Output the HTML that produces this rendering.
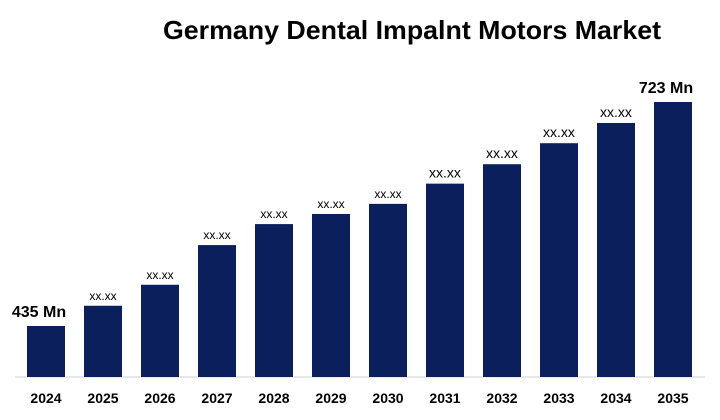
<!DOCTYPE html>
<html><head><meta charset="utf-8"><style>
body{margin:0;background:#fff;}
svg{display:block;font-family:"Liberation Sans",sans-serif;}
</style></head><body>
<svg width="720" height="420">
<text x="412" y="39" text-anchor="middle" font-size="26" font-weight="bold" fill="#000" textLength="498" lengthAdjust="spacingAndGlyphs">Germany Dental Impalnt Motors Market</text>
<line x1="15" y1="377" x2="705" y2="377" stroke="#d0d0d0"/>
<g id="bars"></g>
</svg>
<script>
const categories=["2024","2025","2026","2027","2028","2029","2030","2031","2032","2033","2034","2035"];
const values=[435,461,488,539,566,579,592,618,643,670,696,723];
const labels=["435 Mn","xx.xx","xx.xx","xx.xx","xx.xx","xx.xx","xx.xx","xx.xx","xx.xx","xx.xx","xx.xx","723 Mn"];
const labelSizes=[16,12,12,12,12,12,12,14,14,14,14,16];
const base=377, v0=369.4, k=224/288;
function y(v){return base-(v-v0)*k;}
function x(i){return 27+i*57.0;}
const g=document.getElementById('bars');
const NS="http://www.w3.org/2000/svg";
categories.forEach((c,i)=>{
  const r=document.createElementNS(NS,'rect');
  r.setAttribute('x',x(i));r.setAttribute('y',y(values[i]));
  r.setAttribute('width',38);r.setAttribute('height',base-y(values[i]));
  r.setAttribute('fill','#0a1f5c');
  
  
  g.appendChild(r);
  const t=document.createElementNS(NS,'text');
  t.setAttribute('x',x(i)+19);t.setAttribute('y',403);
  t.setAttribute('text-anchor','middle');t.setAttribute('font-size','14');t.setAttribute('font-weight','bold');
  t.textContent=c;
  
  
  g.appendChild(t);
  const l=document.createElementNS(NS,'text');
  const big=labelSizes[i]>=16;
  l.setAttribute('x',i===0?x(i)+12:(i===11?x(i)+12:x(i)+19));
  l.setAttribute('y',y(values[i])-(big?9:6));
  l.setAttribute('text-anchor','middle');l.setAttribute('font-size',labelSizes[i]);
  if(big)l.setAttribute('font-weight','bold');
  l.textContent=labels[i];
  
  
  g.appendChild(l);
});
</script>
</body></html>
